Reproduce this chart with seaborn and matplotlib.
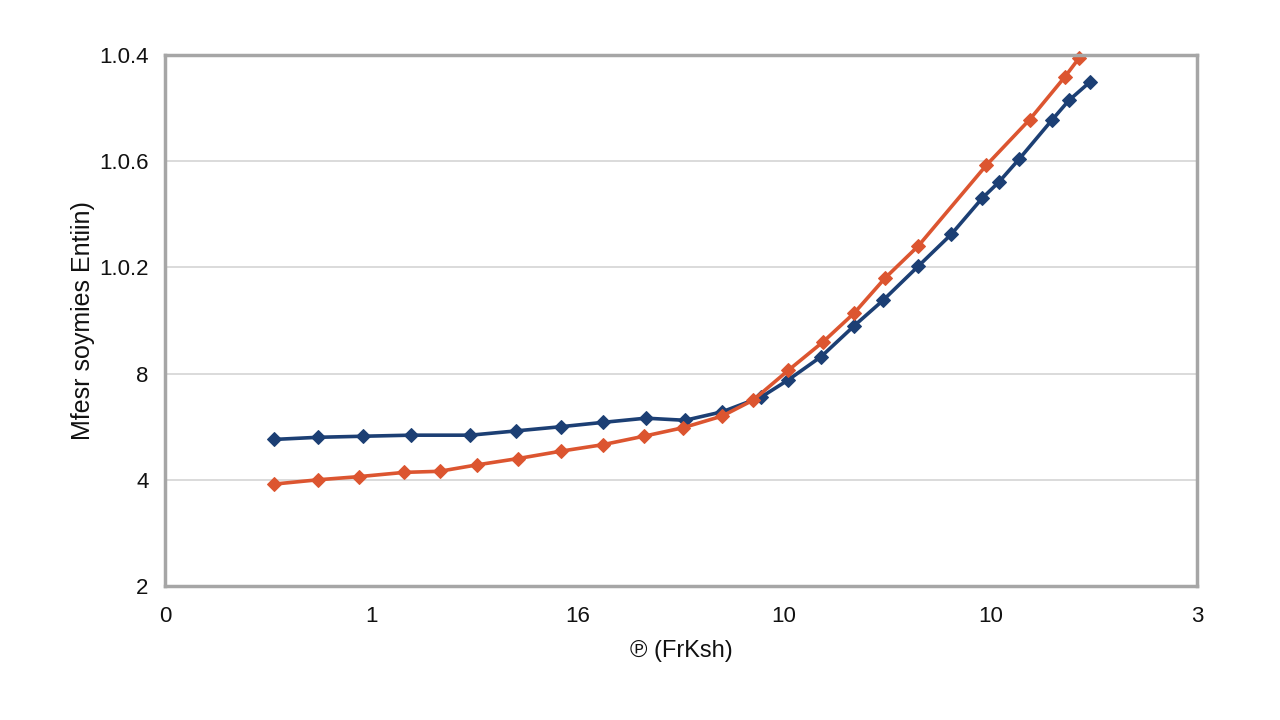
import numpy as np
import pandas as pd
import matplotlib
matplotlib.use("Agg")
import matplotlib.pyplot as plt
import seaborn as sns

# ===============================
# DATA
# ===============================
x_tick_labels = ["0", "1", "16", "10", "10", "3"]
y_tick_labels = ["2", "4", "8", "1.0.2", "1.0.6", "1.0.4"]

navy_x = [0.53, 0.74, 0.96, 1.19, 1.48, 1.70, 1.92, 2.12, 2.33, 2.52, 2.70,
          2.89, 3.02, 3.18, 3.34, 3.48, 3.65, 3.81, 3.96, 4.04, 4.14, 4.30,
          4.38, 4.48]
navy_y = [1.38, 1.40, 1.41, 1.42, 1.42, 1.46, 1.50, 1.54, 1.58, 1.56, 1.64,
          1.78, 1.94, 2.16, 2.45, 2.69, 3.01, 3.31, 3.65, 3.80, 4.02, 4.39,
          4.57, 4.74]

orange_x = [0.53, 0.74, 0.94, 1.16, 1.33, 1.51, 1.71, 1.92, 2.12, 2.32, 2.51,
            2.70, 2.85, 3.02, 3.19, 3.34, 3.49, 3.65, 3.98, 4.19, 4.36, 4.43]
orange_y = [0.96, 1.00, 1.03, 1.07, 1.08, 1.14, 1.20, 1.27, 1.33, 1.41, 1.49,
            1.60, 1.75, 2.03, 2.30, 2.57, 2.90, 3.20, 3.96, 4.39, 4.79, 4.97]

x_label = "\u2117 (FrKsh)"
y_label = "Mfesr soymies Entiin)"

NAVY = "#1c3f74"
ORANGE = "#dc5530"

df = pd.concat([
    pd.DataFrame({"x": navy_x, "y": navy_y, "series": "navy"}),
    pd.DataFrame({"x": orange_x, "y": orange_y, "series": "orange"}),
], ignore_index=True)

# ===============================
# PLOT
# ===============================
sns.set_style("white")
plt.rcParams["font.family"] = ["Liberation Sans", "DejaVu Sans"]

fig = plt.figure(figsize=(12.8, 7.2), dpi=100)
ax = fig.add_axes([0.129, 0.186, 0.806, 0.738])

sns.lineplot(data=df, x="x", y="y", hue="series",
             palette={"navy": NAVY, "orange": ORANGE},
             estimator=None, marker="D", markersize=7, linewidth=2.6,
             legend=False, ax=ax)

for line in ax.lines:
    line.set_markeredgecolor(line.get_color())
    line.set_clip_on(False)

ax.set_xlim(0, 5)
ax.set_ylim(0, 5)
ax.set_xticks(range(6))
ax.set_xticklabels(x_tick_labels)
ax.set_yticks(range(6))
ax.set_yticklabels(y_tick_labels)

ax.grid(axis="y", color="#d4d4d4", linewidth=1.2)
ax.grid(axis="x", visible=False)
for spine in ax.spines.values():
    spine.set_color("#a6a6a6")
    spine.set_linewidth(2.5)

ax.tick_params(axis="x", length=0, pad=14, labelsize=16, colors="#111111")
ax.tick_params(axis="y", length=0, pad=12, labelsize=16, colors="#111111")

ax.set_xlabel(x_label, fontsize=17, labelpad=10, color="#111111")
ax.set_ylabel(y_label, fontsize=18, labelpad=3, color="#111111")

fig.savefig("out.png", dpi=100)
